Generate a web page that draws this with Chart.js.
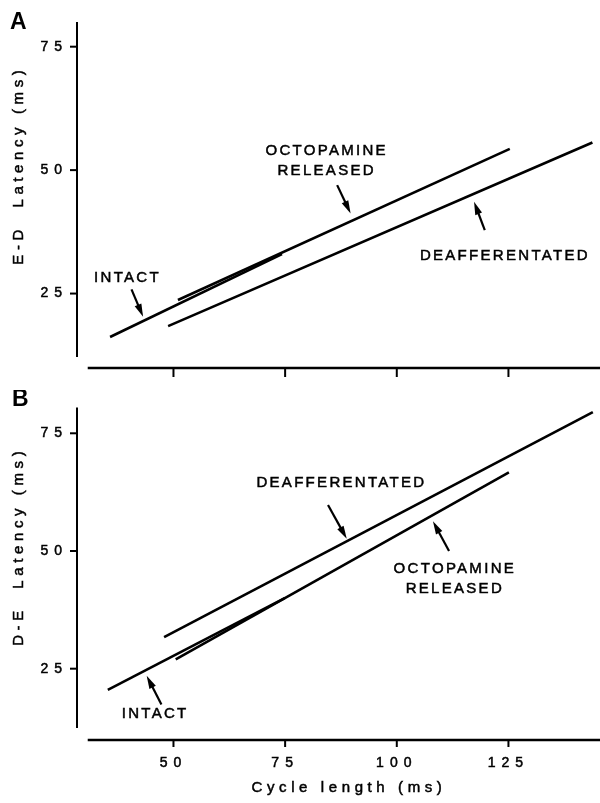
<!DOCTYPE html>
<html>
<head>
<meta charset="utf-8">
<title>Latency vs cycle length</title>
<script src="https://cdn.jsdelivr.net/npm/chart.js"></script>
<style>
  body { margin: 0; background: #fff; }
  canvas { display: block; }
</style>
</head>
<body>
<canvas id="panelA" width="600" height="390"></canvas>
<canvas id="panelB" width="600" height="413"></canvas>
<script>
// axis ticks
const cycleTicks = [50, 75, 100, 125];
const latencyTicks = [25, 50, 75];

// A: E-D latency regression lines (cycle length at ends, latency at ends)
const edIntactX = [35.8, 74.3];
const edIntactY = [16.2, 33.0];
const edOctopamineX = [51.0, 125.3];
const edOctopamineY = [23.7, 54.3];
const edDeafferentX = [48.8, 143.8];
const edDeafferentY = [18.4, 55.6];

// B: D-E latency
const deIntactX = [35.3, 74.9];
const deIntactY = [20.5, 40.0];
const deOctopamineX = [50.5, 125.1];
const deOctopamineY = [27.0, 66.7];
const deDeafferentX = [47.9, 143.9];
const deDeafferentY = [31.7, 79.5];

const FONT = "'Liberation Sans', Arial, sans-serif";
Chart.defaults.font.family = FONT;
Chart.defaults.color = '#000';

function segment(label, xs, ys) {
    return {
        label: label,
        data: xs.map((x, i) => ({ x: x, y: ys[i] })),
        borderColor: '#000',
        borderWidth: 2.6,
        pointRadius: 0,
        tension: 0,
        borderCapStyle: 'butt'
    };
}

function strokeLine(ctx, x1, y1, x2, y2) {
    ctx.beginPath();
    ctx.moveTo(x1, y1);
    ctx.lineTo(x2, y2);
    ctx.stroke();
}

function drawArrow(ctx, x1, y1, x2, y2) {
    const ang = Math.atan2(y2 - y1, x2 - x1);
    const head = 13, half = 3.6;
    const bx = x2 - Math.cos(ang) * head, by = y2 - Math.sin(ang) * head;
    ctx.lineWidth = 2.2;
    strokeLine(ctx, x1, y1, bx + Math.cos(ang) * 2, by + Math.sin(ang) * 2);
    ctx.beginPath();
    ctx.moveTo(x2, y2);
    ctx.lineTo(bx - Math.sin(ang) * half, by + Math.cos(ang) * half);
    ctx.lineTo(bx + Math.sin(ang) * half, by - Math.cos(ang) * half);
    ctx.closePath();
    ctx.fill();
}

// slightly heavier type, like the printed lettering
function inkText(ctx, text, x, y) {
    ctx.fillText(text, x, y);
    ctx.strokeText(text, x, y);
}

// axes drawn offset from each other, plus titles and labelled arrows
const panelDecor = {
    id: 'panelDecor',
    beforeDraw(chart) {
        chart.ctx.letterSpacing = '6px';     // tick numbers
    },
    afterDraw(chart, args, opts) {
        const { ctx, chartArea } = chart;
        const x = chart.scales.x, y = chart.scales.y;
        ctx.save();
        ctx.strokeStyle = '#000';
        ctx.fillStyle = '#000';
        ctx.lineCap = 'butt';

        // y axis with ticks
        ctx.lineWidth = 2;
        strokeLine(ctx, chartArea.left, chartArea.top, chartArea.left, chartArea.bottom);
        latencyTicks.forEach(v => {
            const py = y.getPixelForValue(v);
            strokeLine(ctx, chartArea.left - 7, py, chartArea.left, py);
        });

        // x axis sits a little below the plot
        const ay = chartArea.bottom + opts.axisGap;
        ctx.lineWidth = 2.5;
        strokeLine(ctx, x.getPixelForValue(opts.axisStart), ay, chartArea.right, ay);
        ctx.lineWidth = 2;
        cycleTicks.forEach(v => {
            const px = x.getPixelForValue(v);
            strokeLine(ctx, px, ay, px, ay + opts.tickDown);
        });

        ctx.lineWidth = 0.5;
        ctx.textAlign = 'center';
        ctx.textBaseline = 'middle';
        ctx.letterSpacing = '4.6px';
        ctx.font = '15px ' + FONT;

        // axis titles
        if (opts.xTitle) {
            inkText(ctx, opts.xTitle.text, x.getPixelForValue(opts.xTitle.x), chartArea.bottom + opts.xTitle.dy);
        }
        ctx.save();
        ctx.translate(19, y.getPixelForValue(opts.titleAt));
        ctx.rotate(-Math.PI / 2);
        inkText(ctx, opts.yTitle, 0, 0);
        ctx.restore();

        // curve labels
        ctx.letterSpacing = '2.3px';
        opts.labels.forEach(l => {
            const px = x.getPixelForValue(l.x), py = y.getPixelForValue(l.y);
            l.text.forEach((t, i) => inkText(ctx, t, px, py + i * 20));
        });
        opts.arrows.forEach(a => {
            drawArrow(ctx,
                x.getPixelForValue(a[0]), y.getPixelForValue(a[1]),
                x.getPixelForValue(a[2]), y.getPixelForValue(a[3]));
        });

        // panel letter
        ctx.letterSpacing = '0px';
        ctx.font = 'bold 23px ' + FONT;
        ctx.textAlign = 'left';
        ctx.textBaseline = 'alphabetic';
        ctx.fillText(opts.letter, opts.letterAt[0], opts.letterAt[1]);
        ctx.restore();
    }
};

function makePanel(id, datasets, cfg) {
    return new Chart(document.getElementById(id), {
        type: 'line',
        data: { datasets: datasets },
        plugins: [panelDecor],
        options: {
            responsive: false,
            animation: false,
            events: [],
            layout: { padding: { top: cfg.padTop, left: 0, right: 0, bottom: 0 } },
            plugins: {
                legend: { display: false },
                tooltip: { enabled: false },
                panelDecor: cfg.decor
            },
            scales: {
                x: {
                    type: 'linear',
                    min: 28.4,
                    max: 145.5,
                    grid: { display: false, drawTicks: false },
                    border: { display: false },
                    afterBuildTicks: s => { s.ticks = cycleTicks.map(v => ({ value: v })); },
                    afterFit: s => { s.height = cfg.xHeight; },
                    ticks: {
                        display: cfg.showX,
                        padding: 27,
                        maxRotation: 0,
                        font: { size: 14 },
                        color: '#000',
                        textStrokeColor: '#000',
                        textStrokeWidth: 0.5
                    }
                },
                y: {
                    type: 'linear',
                    min: cfg.yMin,
                    max: cfg.yMax,
                    grid: { display: false, drawTicks: false },
                    border: { display: false },
                    afterBuildTicks: s => { s.ticks = latencyTicks.map(v => ({ value: v })); },
                    afterFit: s => { s.width = 77; },
                    ticks: {
                        padding: 9,
                        font: { size: 14 },
                        color: '#000',
                        textStrokeColor: '#000',
                        textStrokeWidth: 0.5
                    }
                }
            }
        }
    });
}

makePanel('panelA', [
    segment('Intact', edIntactX, edIntactY),
    segment('Octopamine released', edOctopamineX, edOctopamineY),
    segment('Deafferentated', edDeafferentX, edDeafferentY)
], {
    padTop: 22, xHeight: 33, yMin: 12.15, yMax: 80, showX: false,
    decor: {
        letter: 'A', letterAt: [10, 29],
        yTitle: 'E-D  Latency (ms)', titleAt: 51,
        axisStart: 30.8, axisGap: 11, tickDown: 9,
        labels: [
            { text: ['OCTOPAMINE', 'RELEASED'], x: 84.3, y: 53.9 },
            { text: ['INTACT'], x: 39.7, y: 28.1 },
            { text: ['DEAFFERENTATED'], x: 124.2, y: 32.6 }
        ],
        arrows: [
            [86.65, 46.96, 89.66, 41.23],
            [40.6, 25.85, 43.2, 20.3],
            [119.7, 37.85, 117.3, 43.6]
        ]
    }
});

makePanel('panelB', [
    segment('Intact', deIntactX, deIntactY),
    segment('Octopamine released', deOctopamineX, deOctopamineY),
    segment('Deafferentated', deDeafferentX, deDeafferentY)
], {
    padTop: 3, xHeight: 75, yMin: 12.4, yMax: 80.5, showX: true,
    decor: {
        letter: 'B', letterAt: [12, 16],
        yTitle: 'D-E  Latency (ms)', titleAt: 51,
        xTitle: { text: 'Cycle length (ms)', x: 89.3, dy: 60 },
        axisStart: 30.8, axisGap: 12, tickDown: 7,
        labels: [
            { text: ['DEAFFERENTATED'], x: 87.6, y: 64.5 },
            { text: ['OCTOPAMINE', 'RELEASED'], x: 113.0, y: 46.1 },
            { text: ['INTACT'], x: 45.9, y: 15.4 }
        ],
        arrows: [
            [84.6, 59.75, 88.8, 52.6],
            [111.7, 50.0, 108.1, 56.3],
            [47.3, 17.4, 44.0, 23.5]
        ]
    }
});
</script>
</body>
</html>
